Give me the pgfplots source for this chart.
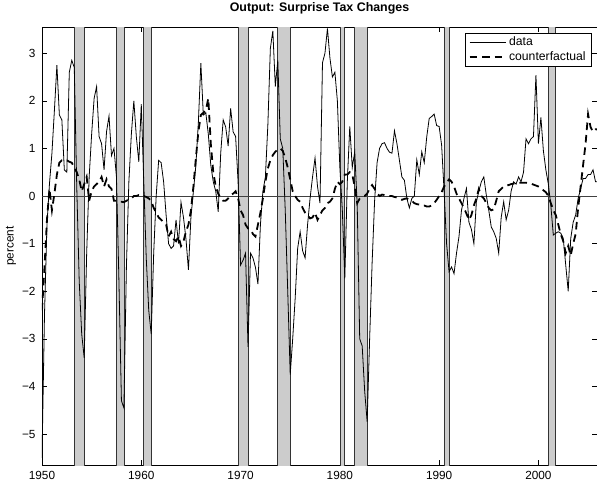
\documentclass[border=0pt]{standalone}
\usepackage{fontspec}
\setmainfont{Liberation Sans}
\usepackage{pgfplots}
\pgfplotsset{compat=1.18}
\usepackage{pgfplotstable}

\pgfplotstableread{
year data cf
1950.00 -5.50 -2.40
1950.25 -2.50 -1.50
1950.50 -0.60 -0.50
1950.75 0.25 0.15
1951.00 0.90 -0.30
1951.25 1.80 0.05
1951.50 2.75 0.45
1951.75 1.70 0.70
1952.00 1.60 0.75
1952.25 0.55 0.75
1952.50 0.50 0.75
1952.75 2.60 0.72
1953.00 2.85 0.70
1953.25 2.70 0.60
1953.50 0.20 0.50
1953.75 -1.80 0.35
1954.00 -2.90 0.10
1954.25 -3.40 0.25
1954.50 -1.20 0.40
1954.75 0.40 -0.10
1955.00 1.30 0.10
1955.25 2.05 0.20
1955.50 2.30 0.25
1955.75 1.25 0.30
1956.00 1.10 0.40
1956.25 0.55 0.20
1956.50 1.35 0.35
1956.75 1.68 0.20
1957.00 0.85 0.15
1957.25 1.00 -0.10
1957.50 0.40 -0.10
1957.75 -1.80 -0.12
1958.00 -4.30 -0.12
1958.25 -4.45 -0.13
1958.50 -1.50 -0.10
1958.75 0.30 -0.07
1959.00 1.30 -0.05
1959.25 2.00 0.00
1959.50 1.25 0.00
1959.75 0.72 0.02
1960.00 1.93 0.00
1960.25 0.30 0.00
1960.50 -1.30 -0.02
1960.75 -2.40 -0.05
1961.00 -2.90 -0.10
1961.25 -1.20 -0.25
1961.50 0.00 -0.35
1961.75 0.75 -0.45
1962.00 0.70 -0.50
1962.25 0.30 -0.55
1962.50 -0.40 -0.60
1962.75 -1.00 -0.85
1963.00 -1.10 -0.75
1963.25 -1.05 -0.90
1963.50 -0.50 -0.95
1963.75 -1.00 -0.85
1964.00 -0.13 -1.05
1964.25 -0.45 -0.95
1964.50 -0.90 -0.75
1964.75 -1.55 -0.60
1965.00 -0.45 -0.30
1965.25 0.10 0.20
1965.50 0.65 0.80
1965.75 1.55 1.35
1966.00 2.79 1.70
1966.25 1.70 1.75
1966.50 1.75 1.80
1966.75 1.30 2.05
1967.00 0.65 1.10
1967.25 0.30 0.50
1967.50 0.10 0.20
1967.75 -0.33 0.05
1968.00 0.90 -0.05
1968.25 1.60 -0.10
1968.50 1.45 -0.10
1968.75 1.05 -0.05
1969.00 1.84 0.02
1969.25 1.35 0.05
1969.50 1.25 0.10
1969.75 0.30 -0.05
1970.00 -1.45 -0.30
1970.25 -1.35 -0.40
1970.50 -1.20 -0.60
1970.75 -3.17 -0.68
1971.00 -1.20 -0.70
1971.25 -1.30 -0.80
1971.50 -1.50 -0.85
1971.75 -1.85 -0.60
1972.00 -0.60 -0.35
1972.25 0.10 -0.05
1972.50 0.40 0.30
1972.75 1.50 0.58
1973.00 3.10 0.75
1973.25 3.47 0.86
1973.50 2.30 0.93
1973.75 2.85 0.98
1974.00 1.20 1.00
1974.25 1.00 0.95
1974.50 -0.30 0.80
1974.75 -2.00 0.60
1975.00 -3.75 0.35
1975.25 -3.00 0.10
1975.50 -2.15 0.00
1975.75 -1.10 -0.08
1976.00 -0.75 -0.12
1976.25 -1.15 -0.25
1976.50 -1.30 -0.35
1976.75 -0.60 -0.40
1977.00 -0.05 -0.47
1977.25 0.40 -0.45
1977.50 0.80 -0.35
1977.75 0.20 -0.50
1978.00 -0.15 -0.40
1978.25 2.80 -0.30
1978.50 3.00 -0.25
1978.75 3.52 -0.15
1979.00 2.90 -0.12
1979.25 2.50 -0.05
1979.50 2.60 0.15
1979.75 2.00 0.30
1980.00 0.60 0.25
1980.25 -0.30 0.30
1980.50 -1.73 0.45
1980.75 0.30 0.45
1981.00 1.46 0.50
1981.25 0.60 0.45
1981.50 0.93 0.20
1981.75 -0.20 -0.15
1982.00 -3.00 -0.05
1982.25 -3.15 -0.02
1982.50 -4.10 0.00
1982.75 -4.74 0.05
1983.00 -3.00 0.16
1983.25 -1.40 0.23
1983.50 -0.10 0.15
1983.75 0.70 0.05
1984.00 1.00 0.00
1984.25 1.10 0.03
1984.50 1.12 0.02
1984.75 1.00 0.01
1985.00 0.92 0.00
1985.25 0.90 0.00
1985.50 1.37 -0.02
1985.75 1.10 -0.03
1986.00 0.75 -0.05
1986.25 0.40 -0.08
1986.50 0.33 -0.06
1986.75 -0.05 -0.05
1987.00 -0.25 -0.08
1987.25 -0.05 -0.10
1987.50 0.00 -0.15
1987.75 0.76 -0.17
1988.00 0.45 -0.18
1988.25 0.93 -0.20
1988.50 0.70 -0.20
1988.75 1.24 -0.22
1989.00 1.63 -0.22
1989.25 1.67 -0.20
1989.50 1.72 -0.15
1989.75 1.48 -0.08
1990.00 1.46 0.00
1990.25 1.07 0.08
1990.50 0.10 0.20
1990.75 -1.00 0.28
1991.00 -1.59 0.35
1991.25 -1.49 0.30
1991.50 -1.63 0.20
1991.75 -1.20 0.05
1992.00 -0.85 -0.05
1992.25 -0.30 -0.15
1992.50 -0.05 -0.25
1992.75 0.16 -0.37
1993.00 -0.55 -0.50
1993.25 -0.70 -0.40
1993.50 -1.00 -0.20
1993.75 -0.12 -0.05
1994.00 0.10 0.15
1994.25 0.30 0.00
1994.50 0.40 -0.05
1994.75 0.02 -0.15
1995.00 -0.30 -0.25
1995.25 -0.65 -0.30
1995.50 -0.75 -0.28
1995.75 -0.89 -0.10
1996.00 -1.20 0.10
1996.25 -0.45 0.15
1996.50 -0.12 0.20
1996.75 -0.50 0.22
1997.00 -0.30 0.23
1997.25 0.10 0.25
1997.50 0.30 0.26
1997.75 0.25 0.27
1998.00 0.40 0.28
1998.25 0.30 0.28
1998.50 0.50 0.28
1998.75 1.20 0.28
1999.00 1.10 0.27
1999.25 1.20 0.26
1999.50 1.25 0.24
1999.75 2.54 0.22
2000.00 1.10 0.20
2000.25 1.65 0.17
2000.50 0.95 0.12
2000.75 0.55 0.08
2001.00 0.25 0.00
2001.25 -0.20 -0.15
2001.50 -0.82 -0.30
2001.75 -0.78 -0.40
2002.00 -0.75 -0.60
2002.25 -0.78 -0.80
2002.50 -0.89 -0.95
2002.75 -1.45 -1.20
2003.00 -2.00 -1.05
2003.25 -0.90 -1.25
2003.50 -0.55 -1.00
2003.75 -0.40 -0.80
2004.00 -0.05 -0.25
2004.25 0.15 0.20
2004.50 0.37 0.65
2004.75 0.37 1.10
2005.00 0.45 1.72
2005.25 0.45 1.45
2005.50 0.55 1.35
2005.75 0.30 1.40
2006.00 0.30 1.40
}\series

\definecolor{recess}{gray}{0.8}

\begin{document}
\begin{tikzpicture}
\useasboundingbox (-42pt,-18pt) rectangle (555pt,465pt);
\begin{axis}[
  scale only axis, width=555pt, height=438pt,
  at={(0pt,0pt)}, anchor=south west,
  xmin=1950, xmax=2005.9, ymin=-5.65, ymax=3.55,
  xtick={1950,1960,1970,1980,1990,2000},
  xticklabels={1950,1960,1970,1980,1990,2000},
  ytick={-5,-4,-3,-2,-1,0,1,2,3},
  yticklabels={−5,−4,−3,−2,−1,0,1,2,3},
  tick align=inside, major tick length=5pt,
  tick style={black, line width=0.5pt},
  axis line style={black, line width=0.6pt},
  tick label style={font=\fontsize{11.8}{14}\selectfont},
  yticklabel style={anchor=east, xshift=-3pt},
  xticklabel style={anchor=north, yshift=-3pt},
  title={Output: Surprise Tax Changes},
  title style={font=\fontsize{12.4}{14}\selectfont\bfseries, at={(axis description cs:0.5,1)}, anchor=base, yshift=9.7pt},
  ylabel={percent},
  ylabel style={font=\fontsize{11.8}{14}\selectfont, at={(axis description cs:0,0.5)}, anchor=center, rotate=0, yshift=31pt},
  legend style={at={(axis description cs:1,1)}, anchor=north east, xshift=-5pt, yshift=-6pt,
    draw=black, line width=0.6pt, fill=white, font=\fontsize{12.2}{14}\selectfont,
    inner xsep=3.5pt, inner ysep=2pt, row sep=1pt,
    nodes={inner xsep=2.5pt, inner ysep=1pt, text height=9pt, text depth=3pt}},
  legend cell align=left,
  legend image code/.code={\draw[#1] (0pt,0pt) -- (36pt,0pt);},
]
% recession bars
\addplot[forget plot, fill=recess, draw=black!80, line width=0.7pt] coordinates {(1953.25,-6) (1953.25,4) (1954.25,4) (1954.25,-6)};
\addplot[forget plot, fill=recess, draw=black!80, line width=0.7pt] coordinates {(1957.50,-6) (1957.50,4) (1958.25,4) (1958.25,-6)};
\addplot[forget plot, fill=recess, draw=black!80, line width=0.7pt] coordinates {(1960.25,-6) (1960.25,4) (1961.00,4) (1961.00,-6)};
\addplot[forget plot, fill=recess, draw=black!80, line width=0.7pt] coordinates {(1969.75,-6) (1969.75,4) (1970.75,4) (1970.75,-6)};
\addplot[forget plot, fill=recess, draw=black!80, line width=0.7pt] coordinates {(1973.75,-6) (1973.75,4) (1975.00,4) (1975.00,-6)};
\addplot[forget plot, fill=recess, draw=black!80, line width=0.7pt] coordinates {(1980.00,-6) (1980.00,4) (1980.50,4) (1980.50,-6)};
\addplot[forget plot, fill=recess, draw=black!80, line width=0.7pt] coordinates {(1981.50,-6) (1981.50,4) (1982.75,4) (1982.75,-6)};
\addplot[forget plot, fill=recess, draw=black!80, line width=0.7pt] coordinates {(1990.50,-6) (1990.50,4) (1991.00,4) (1991.00,-6)};
\addplot[forget plot, fill=recess, draw=black!80, line width=0.7pt] coordinates {(2001.00,-6) (2001.00,4) (2001.75,4) (2001.75,-6)};
% zero line
\addplot[forget plot, black!75, line width=0.6pt] coordinates {(1950,0) (2006,0)};
% series
\addplot[black, line width=0.8pt] table[x=year, y=data] {\series};
\addlegendentry{data}
\addplot[black, line width=1.8pt, dash pattern=on 7.5pt off 5pt] table[x=year, y=cf] {\series};
\addlegendentry{counterfactual}
\end{axis}
\end{tikzpicture}
\end{document}
